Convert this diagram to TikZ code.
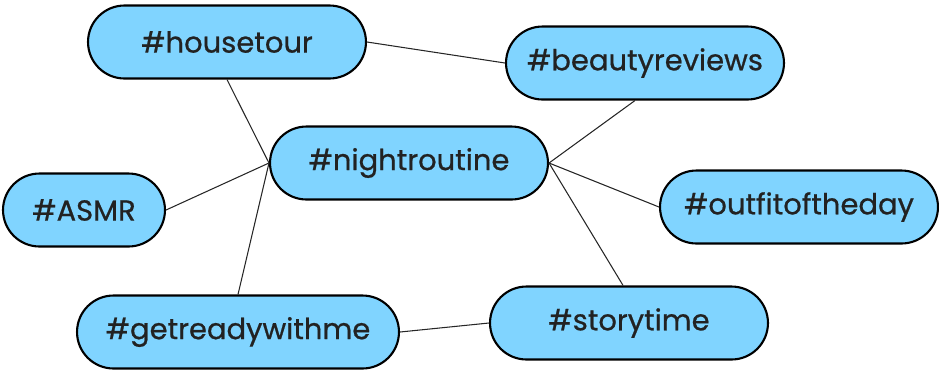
\documentclass[tikz,border=0pt]{standalone}
\usepackage{fontspec}
\setmainfont{Poppins}
\newfontface\tagfont{Poppins}[FakeBold=0.7]
\definecolor{pillblue}{HTML}{80D4FF}
\definecolor{tagtext}{HTML}{222222}
\tikzset{
    tag/.style={draw=black, line width=1.2pt, fill=pillblue, text=tagtext,
        rounded corners=0.73cm, minimum height=1.46cm, minimum width=5.56cm,
        font=\tagfont\fontsize{16.5}{18}\selectfont},
    link/.style={line width=0.6pt, black!85}
}
\begin{document}
\begin{tikzpicture}[x=0.02cm,y=-0.02cm]
                \useasboundingbox (0,0) rectangle (939,370);
                \node[tag] (housetour) at (227,42) {\#housetour};
                \node[tag] (beautyreviews) at (645,63) {\#beautyreviews};
                \node[tag] (nightroutine) at (409,163) {\#nightroutine};
                \node[tag, minimum width=3.24cm] (asmr) at (84,210) {\#ASMR};
                \node[tag] (outfitoftheday) at (799,207) {\#outfitoftheday};
                \node[tag, minimum width=6.44cm] (getreadywithme) at (238,332) {\#getreadywithme};
                \node[tag] (storytime) at (629,323) {\#storytime};
                \draw[link] (housetour.east)--(beautyreviews.west);
                \draw[link] (housetour.south)--(nightroutine.west);
                \draw[link] (asmr.east)--(nightroutine.west);
                \draw[link] (getreadywithme.north)--(nightroutine.west);
                \draw[link] (nightroutine.east)--(beautyreviews.255);
                \draw[link] (nightroutine.east)--(outfitoftheday.west);
                \draw[link] (nightroutine.east)--(storytime.99);
                \draw[link] (getreadywithme.east)--(storytime.west);
                \end{tikzpicture}
\end{document}
